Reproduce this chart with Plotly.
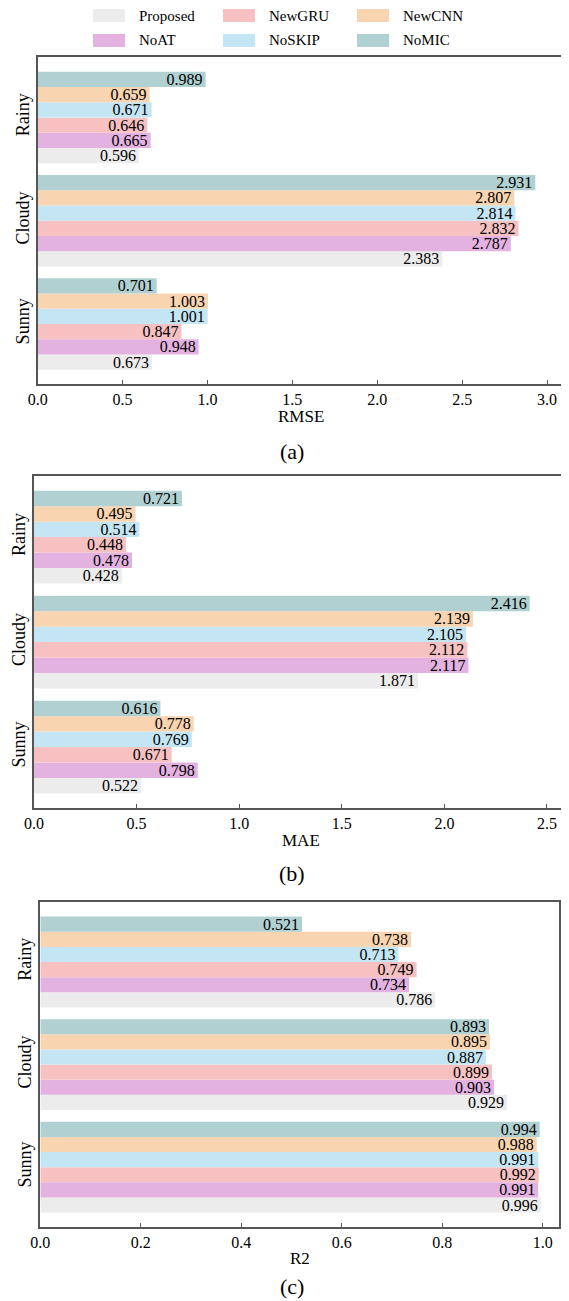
import plotly.graph_objects as go

# The page body has an 8px margin, so the figure is drawn 8px in from the
# top-left corner; the figure size is reduced accordingly.
PAGE_W, PAGE_H, BODY_M = 569, 1301, 8
W, H = PAGE_W - BODY_M, PAGE_H - BODY_M
FONT = "Liberation Serif, Times New Roman, serif"

conditions = ["Sunny", "Cloudy", "Rainy"]
models = ["Proposed", "NoAT", "NewGRU", "NoSKIP", "NewCNN", "NoMIC"]
colors = ["#ececec", "#e3b2e1", "#f7c1c2", "#c4e6f4", "#f9d4b0", "#b1d0d1"]

# values ordered as conditions: Sunny, Cloudy, Rainy
rmse = {
    "Proposed": [0.673, 2.383, 0.596],
    "NoAT":     [0.948, 2.787, 0.665],
    "NewGRU":   [0.847, 2.832, 0.646],
    "NoSKIP":   [1.001, 2.814, 0.671],
    "NewCNN":   [1.003, 2.807, 0.659],
    "NoMIC":    [0.701, 2.931, 0.989],
}
mae = {
    "Proposed": [0.522, 1.871, 0.428],
    "NoAT":     [0.798, 2.117, 0.478],
    "NewGRU":   [0.671, 2.112, 0.448],
    "NoSKIP":   [0.769, 2.105, 0.514],
    "NewCNN":   [0.778, 2.139, 0.495],
    "NoMIC":    [0.616, 2.416, 0.721],
}
r2 = {
    "Proposed": [0.996, 0.929, 0.786],
    "NoAT":     [0.991, 0.903, 0.734],
    "NewGRU":   [0.992, 0.899, 0.749],
    "NoSKIP":   [0.991, 0.887, 0.713],
    "NewCNN":   [0.988, 0.895, 0.738],
    "NoMIC":    [0.994, 0.893, 0.521],
}

metric_titles = ["RMSE", "MAE", "R2"]
panel_tags = ["(a)", "(b)", "(c)"]
x_dtick = [0.5, 0.5, 0.2]
x_max = [3.10, 2.60, 1.033]

# panel boxes in page pixels: (left, right, top, bottom)
boxes = [(37.7, 564.0, 57.0, 384.0),
         (34.0, 567.5, 475.7, 808.0),
         (40.3, 559.3, 902.0, 1226.7)]
title_offsets = [33, 32, 31.5]
tag_offsets = [67, 65, 59.5]

def px(x):
    return (x - BODY_M) / W

def py(y):
    return 1 - (y - BODY_M) / H

fig = go.Figure()
datasets = [rmse, mae, r2]
for p, data in enumerate(datasets):
    xa = "x" if p == 0 else f"x{p+1}"
    ya = "y" if p == 0 else f"y{p+1}"
    for m, c in zip(models, colors):
        fig.add_trace(go.Bar(
            y=conditions, x=data[m], orientation="h", name=m,
            marker=dict(color=c, line=dict(width=0)),
            text=[f"{v:.3f}" for v in data[m]],
            textposition="inside", insidetextanchor="end",
            constraintext="none", cliponaxis=False,
            textfont=dict(family=FONT, size=16, color="black"),
            xaxis=xa, yaxis=ya, showlegend=False,
        ))

axis_common = dict(showline=True, mirror=True, linecolor="#555555", linewidth=1.5,
                   showgrid=False, zeroline=False, automargin=False)
for p in range(3):
    l, r, t, b = boxes[p]
    xk = "xaxis" if p == 0 else f"xaxis{p+1}"
    yk = "yaxis" if p == 0 else f"yaxis{p+1}"
    yref = "y" if p == 0 else f"y{p+1}"
    xref = "x" if p == 0 else f"x{p+1}"
    fig.layout[xk] = dict(domain=[px(l), px(r)], range=[0, x_max[p]], anchor=yref,
                          ticks="inside", ticklen=4, tickwidth=1, tickcolor="#555555",
                          dtick=x_dtick[p], tick0=0, tickformat=".1f",
                          tickfont=dict(family=FONT, size=16, color="black"),
                          **axis_common)
    fig.layout[yk] = dict(domain=[py(b), py(t)], range=[-0.58, 2.585], anchor=xref,
                          type="category", categoryorder="array", categoryarray=conditions,
                          tickangle=-90, ticks="",
                          tickfont=dict(family=FONT, size=18, color="black"),
                          **axis_common)
    cx = (l + r) / 2
    fig.add_annotation(text=metric_titles[p], xref="paper", yref="paper",
                       x=px(cx), y=py(b + title_offsets[p]), xanchor="center", yanchor="middle",
                       showarrow=False, font=dict(family=FONT, size=17, color="black"))
    fig.add_annotation(text=panel_tags[p], xref="paper", yref="paper",
                       x=px(292), y=py(b + tag_offsets[p]), xanchor="center", yanchor="middle",
                       showarrow=False, font=dict(family=FONT, size=22, color="black"))

# legend (two rows, three columns, column-major order like the source)
leg_cols_x = [93, 223, 357]
leg_rows_y = [15.5, 40.5]
for i, (m, c) in enumerate(zip(models, colors)):
    col, row = i // 2, i % 2
    x0 = leg_cols_x[col]
    yc = leg_rows_y[row]
    fig.add_shape(type="rect", xref="paper", yref="paper",
                  x0=px(x0), x1=px(x0 + 32), y0=py(yc + 6.5), y1=py(yc - 6.5),
                  fillcolor=c, line=dict(width=0))
    fig.add_annotation(text=m, xref="paper", yref="paper", x=px(x0 + 44), y=py(yc),
                       xanchor="left", yanchor="middle", showarrow=False,
                       font=dict(family=FONT, size=15, color="black"))

fig.update_layout(template="none", width=W, height=H,
                  margin=dict(l=0, r=0, t=0, b=0, pad=0),
                  barmode="group", bargap=0.115, bargroupgap=0,
                  plot_bgcolor="white", paper_bgcolor="white",
                  font=dict(family=FONT, color="black"))

fig.write_html("out.html")
